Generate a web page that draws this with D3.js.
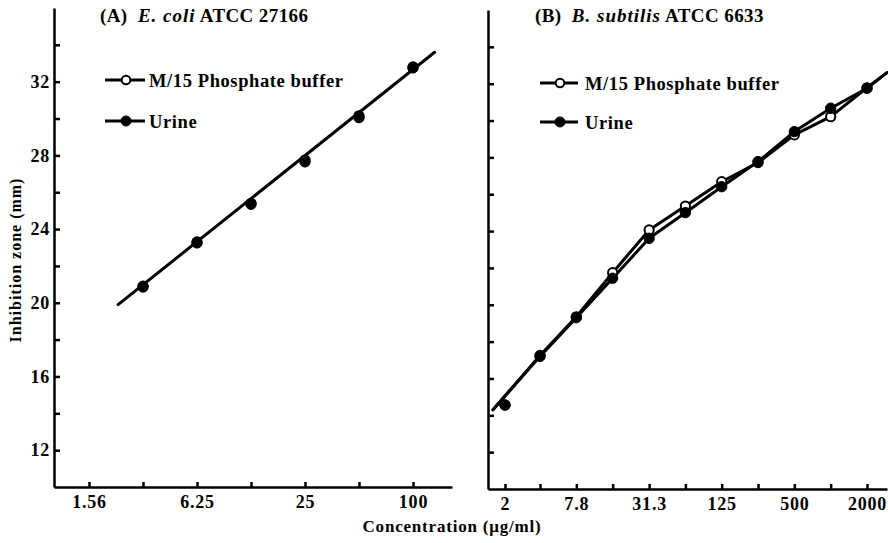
<!DOCTYPE html>
<html>
<head>
<meta charset="utf-8">
<script src="https://cdn.jsdelivr.net/npm/d3@7"></script>
<style>
  body { margin: 0; background: #fff; }
  svg { font-family: "Liberation Serif", serif; font-weight: bold; }
</style>
</head>
<body>
<script>

// ---- panel A : E. coli ATCC 27166
var concA      = [3.125, 6.25, 12.5, 25, 50, 100];
var bufferA    = [20.85, 23.3, 25.4, 27.75, 30.15, 32.8];
var urineA     = [20.9, 23.25, 25.35, 27.65, 30.05, 32.75];
var fitA       = [[2.27, 19.9], [132, 33.6]];          // regression line ends
var ticksA     = [1.5625, 3.125, 6.25, 12.5, 25, 50, 100];
var tickLabelsA = ["1.56", "", "6.25", "", "25", "", "100"];

// ---- panel B : B. subtilis ATCC 6633
var concB      = [2, 3.9, 7.8, 15.6, 31.3, 62.5, 125, 250, 500, 1000, 2000];
var bufferB    = [14.56, 17.25, 19.35, 21.74, 24.06, 25.36, 26.68, 27.72, 29.22, 30.21, 31.78];
var urineB     = [14.56, 17.2, 19.3, 21.44, 23.61, 25.0, 26.41, 27.77, 29.4, 30.67, 31.75];
var startB     = [1.59, 14.3], endB = [2930, 32.6];   // line runs past the points
var tickLabelsB = ["2", "", "7.8", "", "31.3", "", "125", "", "500", "", "2000"];

// ---- shared y axis
var yTicks     = [12, 14, 16, 18, 20, 22, 24, 26, 28, 30, 32, 34];
var yLabels    = ["12", "", "16", "", "20", "", "24", "", "28", "", "32", ""];
var seriesNames = ["M/15 Phosphate buffer", "Urine"];


var svg = d3.select("body").append("svg")
    .attr("width", 888)
    .attr("height", 543);


// scales, the log ones are pinned by two known ticks then stretched to the axis ends
var xA = d3.scaleLog().domain([1.5625, 100]).range([89, 413]);
xA.domain([xA.invert(54), xA.invert(452)]).range([54, 452]);

var xB = d3.scaleLog().domain([2, 2000]).range([505, 867]);
xB.domain([xB.invert(488), xB.invert(887)]).range([488, 887]);

var yA = d3.scaleLinear().domain([10, 36]).range([487, 8]);
var yB = d3.scaleLinear().domain([10, 36]).range([489, 10]);


function drawAxes(g, x, y, xTicks, xLabels, showY) {

    g.append("g")
        .attr("transform", "translate(0," + y.range()[0] + ")")
        .call(d3.axisBottom(x)
            .tickValues(xTicks)
            .tickFormat(function(d, i) { return xLabels[i]; })
            .tickSizeInner(-5)
            .tickSizeOuter(0)
            .tickPadding(8))
        .call(styleAxis);

    g.append("g")
        .attr("transform", "translate(" + x.range()[0] + ",0)")
        .call(d3.axisLeft(y)
            .tickValues(yTicks)
            .tickFormat(function(d, i) { return showY ? yLabels[i] : ""; })
            .tickSizeInner(-6)
            .tickSizeOuter(0)
            .tickPadding(4))
        .call(styleAxis);
}

function styleAxis(sel) {
    sel.select(".domain").attr("stroke", "#000").attr("stroke-width", 2.5);
    sel.selectAll(".tick line").attr("stroke", "#000").attr("stroke-width", 2.5);
    sel.selectAll(".tick text")
        .attr("fill", "#000")
        .style("font-family", "'Liberation Serif', serif")
        .style("font-weight", "bold")
        .style("font-size", "18px")
        .style("letter-spacing", "0.8px");
}


function drawMarkers(g, x, y, conc, vals, filled) {
    g.selectAll(null)
        .data(conc)
        .enter()
        .append("circle")
            .attr("cx", function(d) { return x(d); })
            .attr("cy", function(d, i) { return y(vals[i]); })
            .attr("r", filled ? 5.2 : 4.6)
            .attr("fill", filled ? "#000" : "#fff")
            .attr("stroke", "#000")
            .attr("stroke-width", filled ? 1 : 2);
}

function drawLegend(g, x0, x1, ys, tx) {
    seriesNames.forEach(function(name, i) {
        g.append("line")
            .attr("x1", x0).attr("x2", x1)
            .attr("y1", ys[i]).attr("y2", ys[i])
            .attr("stroke", "#000")
            .attr("stroke-width", 3);
        g.append("circle")
            .attr("cx", (x0 + x1) / 2 + 1)
            .attr("cy", ys[i])
            .attr("r", i === 0 ? 4.3 : 5)
            .attr("fill", i === 0 ? "#fff" : "#000")
            .attr("stroke", "#000")
            .attr("stroke-width", i === 0 ? 2 : 1);
        g.append("text")
            .attr("x", tx)
            .attr("y", ys[i] + 7)
            .style("font-size", "18.5px")
            .style("letter-spacing", "0.6px")
            .text(name);
    });
}

function drawTitle(g, x, y, tag, species, strain) {
    var t = g.append("text").attr("x", x).attr("y", y)
        .style("font-size", "19px")
        .style("letter-spacing", "0.4px")
        .attr("xml:space", "preserve");
    t.append("tspan").text(tag + "  ");
    t.append("tspan").style("font-style", "italic").style("letter-spacing", "1px").text(species);
    t.append("tspan").text(" " + strain);
}


var line = d3.line();


// ---------- panel A
var gA = svg.append("g");
drawAxes(gA, xA, yA, ticksA, tickLabelsA, true);

gA.append("path")
    .attr("d", line(fitA.map(function(p) { return [xA(p[0]), yA(p[1])]; })))
    .attr("fill", "none")
    .attr("stroke", "#000")
    .attr("stroke-width", 3)
    .attr("stroke-linecap", "round");

drawMarkers(gA, xA, yA, concA, bufferA, false);
drawMarkers(gA, xA, yA, concA, urineA, true);
drawLegend(gA, 105, 145, [80, 121], 149);
drawTitle(gA, 100, 22, "(A)", "E. coli", "ATCC 27166");


// ---------- panel B
var gB = svg.append("g");
drawAxes(gB, xB, yB, concB, tickLabelsB, false);

[bufferB, urineB].forEach(function(vals) {
    var pts = [startB].concat(concB.slice(1).map(function(c, i) { return [c, vals[i + 1]]; }), [endB]);
    gB.append("path")
        .attr("d", line(pts.map(function(p) { return [xB(p[0]), yB(p[1])]; })))
        .attr("fill", "none")
        .attr("stroke", "#000")
        .attr("stroke-width", 3)
        .attr("stroke-linejoin", "round")
        .attr("stroke-linecap", "round");
});

drawMarkers(gB, xB, yB, concB, bufferB, false);
drawMarkers(gB, xB, yB, concB, urineB, true);
drawLegend(gB, 540, 578, [83, 122], 585);
drawTitle(gB, 535, 22, "(B)", "B. subtilis", "ATCC 6633");


// ---------- axis titles
svg.append("text")
    .attr("transform", "translate(21,260) rotate(-90)")
    .attr("text-anchor", "middle")
    .style("font-size", "16px")
    .style("letter-spacing", "1px")
    .text("Inhibition zone (mm)");

svg.append("text")
    .attr("x", 452)
    .attr("y", 532)
    .attr("text-anchor", "middle")
    .style("font-size", "17px")
    .style("letter-spacing", "0.8px")
    .text("Concentration (\u03bcg/ml)");

</script>
</body>
</html>
